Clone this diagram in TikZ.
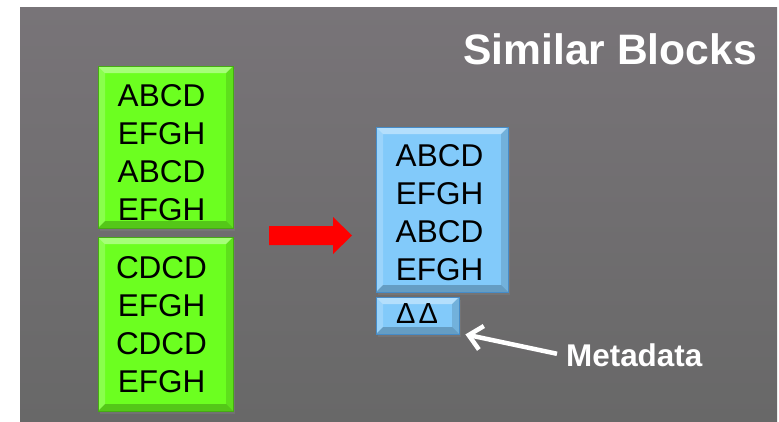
\documentclass[tikz,border=0pt]{standalone}
\usepackage{fontspec}
\setmainfont{Liberation Sans}
\usetikzlibrary{shadows,arrows.meta}
\definecolor{bgtop}{RGB}{120,116,120}
\definecolor{bgbot}{RGB}{104,104,104}
\definecolor{gfill}{RGB}{108,255,32}
\definecolor{gedge}{RGB}{70,170,20}
\definecolor{bfill}{RGB}{130,202,250}
\definecolor{bedge}{RGB}{70,140,200}
\definecolor{arrred}{RGB}{255,0,0}
\def\ppbb{path picture bounding box}
\tikzset{
  bevel/.style={path picture={
    \fill[white,opacity=0.4] (\ppbb.north west) -- (\ppbb.north east) -- ([xshift=-7pt,yshift=-7pt]\ppbb.north east) -- ([xshift=7pt,yshift=-7pt]\ppbb.north west) -- cycle;
    \fill[white,opacity=0.2] (\ppbb.north west) -- ([xshift=7pt,yshift=-7pt]\ppbb.north west) -- ([xshift=7pt,yshift=7pt]\ppbb.south west) -- (\ppbb.south west) -- cycle;
    \fill[black,opacity=0.22] (\ppbb.south west) -- ([xshift=7pt,yshift=7pt]\ppbb.south west) -- ([xshift=-7pt,yshift=7pt]\ppbb.south east) -- (\ppbb.south east) -- cycle;
    \fill[black,opacity=0.12] (\ppbb.south east) -- ([xshift=-7pt,yshift=7pt]\ppbb.south east) -- ([xshift=-7pt,yshift=-7pt]\ppbb.north east) -- (\ppbb.north east) -- cycle;
  }},
  block/.style={rectangle, inner sep=0pt, line width=0.8pt, bevel,
    drop shadow={shadow xshift=2pt, shadow yshift=-3pt, opacity=0.45}},
  gblock/.style={block, fill=gfill, draw=gedge},
  bblock/.style={block, fill=bfill, draw=bedge},
  txt/.style={inner sep=0pt, align=center, font=\fontsize{31.5}{38}\selectfont, text=black},
  title/.style={inner sep=0pt, text=white, font=\fontsize{42.6}{50}\selectfont\bfseries},
  label/.style={inner sep=0pt, text=white, font=\fontsize{31.4}{36}\selectfont\bfseries},
  pointer/.style={draw=white, line width=4.5pt, -{Straight Barb[length=13pt,width=24pt]}},
}
\begin{document}
\begin{tikzpicture}[x=1pt,y=1pt]
  \useasboundingbox (0,0) rectangle (779,-421);
  \fill[white] (0,0) rectangle (779,-421);
  \shade[top color=bgtop, bottom color=bgbot] (20,-7) rectangle (777,-421);

  % green blocks
  \node[gblock, minimum width=135pt, minimum height=162pt] (g1) at (165.5,-147) {};
  \node[txt, anchor=north] (t1) at (161.5,-84.4) {ABCD\\EFGH\\ABCD\\EFGH};
  \node[gblock, minimum width=135pt, minimum height=174pt] (g2) at (165.5,-324) {};
  \node[txt, anchor=north] (t2) at (161.5,-256.4) {CDCD\\EFGH\\CDCD\\EFGH};

  % blue blocks
  \node[bblock, minimum width=132pt, minimum height=165pt] (b1) at (442,-209.5) {};
  \node[txt, anchor=north] (t3) at (439.5,-144.4) {ABCD\\EFGH\\ABCD\\EFGH};
  \node[bblock, minimum width=83pt, minimum height=37pt] (d) at (417.5,-315.5) {};
  \node[txt, anchor=base west, font=\fontsize{29}{34}\selectfont] (t4) at (396,-323) {Δ\hspace{3pt}Δ};

  % red arrow
  \fill[arrred] (269,-226) -- (333,-226) -- (333,-217) -- (352,-235.5) -- (333,-254) -- (333,-245) -- (269,-245) -- cycle;

  % labels
  \node[title, anchor=base west] (ttl) at (463,-64) {Similar Blocks};
  \node[label, anchor=base west] (meta) at (566,-366) {Metadata};
  \coordinate (tip) at ([xshift=6pt]d.south east);
  \draw[pointer] ([xshift=-9pt,yshift=1pt]meta.west) -- (tip);
\end{tikzpicture}
\end{document}
